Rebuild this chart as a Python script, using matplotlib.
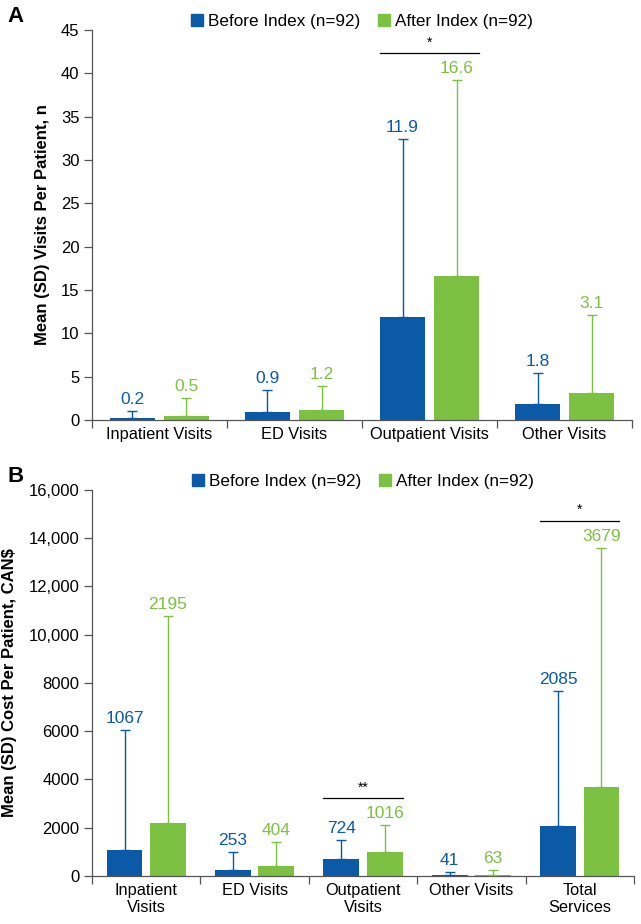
import matplotlib
matplotlib.use("Agg")
import matplotlib.pyplot as plt
import numpy as np
from matplotlib.ticker import FuncFormatter
from matplotlib.patches import Patch

plt.rcParams['font.family'] = ['Liberation Sans', 'DejaVu Sans']

# panel A - visits
visit_cats = ['Inpatient Visits', 'ED Visits', 'Outpatient Visits', 'Other Visits']
before_visits = [0.2, 0.9, 11.9, 1.8]
before_visits_sd = [0.84, 2.56, 20.5, 3.6]
after_visits = [0.5, 1.2, 16.6, 3.1]
after_visits_sd = [2.0, 2.68, 22.6, 9.05]
visit_ticks = [0, 5, 10, 15, 20, 25, 30, 35, 40, 45]
visit_sig = [(2, 42.3, '*')]

# panel B - costs
cost_cats = ['Inpatient\nVisits', 'ED Visits', 'Outpatient\nVisits', 'Other Visits', 'Total\nServices']
before_cost = [1067, 253, 724, 41, 2085]
before_cost_sd = [4978, 724, 779, 125, 5588]
after_cost = [2195, 404, 1016, 63, 3679]
after_cost_sd = [8571, 1016, 1108, 185, 9915]
cost_ticks = [0, 2000, 4000, 6000, 8000, 10000, 12000, 14000, 16000]
cost_sig = [(2, 3230, '**'), (4, 14712, '*')]

BLUE = '#0a5aa8'
GREEN = '#7cc142'
AXCOL = '#555555'
width = 0.33
off = 0.2


def draw_panel(ax, cats, before, before_sd, after, after_sd, ticks, sig, fmt, ylabel, ystep):
    n = len(cats)
    x = np.arange(n) + 0.5
    for xs, vals, sds, col in [(x - off, before, before_sd, BLUE), (x + off, after, after_sd, GREEN)]:
        ax.bar(xs, vals, width, color=col, zorder=2)
        ax.errorbar(xs, vals, yerr=[np.zeros(n), sds], fmt='none', ecolor=col,
                    elinewidth=1.0, capsize=3.8, capthick=1.0, zorder=3)
        for xi, v, s in zip(xs, vals, sds):
            ax.annotate(fmt(v), (xi, v + s), xytext=(0, 3), textcoords='offset points',
                        ha='center', va='bottom', color=col, fontsize=12.5)
    for i, y, star in sig:
        ax.plot([x[i] - off - width / 2, x[i] + off + width / 2], [y, y], color='black', lw=0.9)
        ax.text(x[i], y + ystep, star, ha='center', va='bottom', fontsize=10)

    ax.set_xlim(0, n)
    ax.set_ylim(0, ticks[-1])
    ax.set_yticks(ticks)
    ax.yaxis.set_major_formatter(FuncFormatter(
        lambda v, p: '{:,}'.format(int(v)) if v >= 10000 else str(int(v))))
    ax.set_xticks(x)
    ax.set_xticklabels(cats, fontsize=11.8, linespacing=1.15)
    ax.set_xticks(np.arange(n + 1), minor=True)
    ax.tick_params(axis='x', which='major', length=0, pad=5)
    ax.tick_params(axis='x', which='minor', length=6, width=0.9, color=AXCOL, direction='out')
    ax.tick_params(axis='y', length=6, width=0.9, color=AXCOL, labelsize=12, pad=3)
    for s in ['top', 'right']:
        ax.spines[s].set_visible(False)
    for s in ['left', 'bottom']:
        ax.spines[s].set_color(AXCOL)
        ax.spines[s].set_linewidth(0.9)
    ax.set_ylabel(ylabel, fontsize=12, fontweight='bold', labelpad=8)

    handles = [Patch(color=BLUE, label='Before Index (n=92)'),
               Patch(color=GREEN, label='After Index (n=92)')]
    ax.legend(handles=handles, loc='lower center', bbox_to_anchor=(0.5, 0.985), ncol=2,
              frameon=False, fontsize=12.3, handlelength=0.7, handleheight=0.7,
              handletextpad=0.3, columnspacing=1.0, borderaxespad=0)


fig = plt.figure(figsize=(6.41, 9.24), dpi=100)
ax1 = fig.add_axes([0.1435, 0.5455, 0.8425, 0.422])
ax2 = fig.add_axes([0.1435, 0.0519, 0.8455, 0.4182])

draw_panel(ax1, visit_cats, before_visits, before_visits_sd, after_visits, after_visits_sd,
           visit_ticks, visit_sig, lambda v: '{:.1f}'.format(v),
           'Mean (SD) Visits Per Patient, n', 0.4)
draw_panel(ax2, cost_cats, before_cost, before_cost_sd, after_cost, after_cost_sd,
           cost_ticks, cost_sig, lambda v: '{:d}'.format(v),
           'Mean (SD) Cost Per Patient, CAN$', 150)

fig.text(0.012, 0.982, 'A', fontsize=16, fontweight='bold', va='center')
fig.text(0.012, 0.484, 'B', fontsize=16, fontweight='bold', va='center')

fig.savefig('out.png', dpi=100)
